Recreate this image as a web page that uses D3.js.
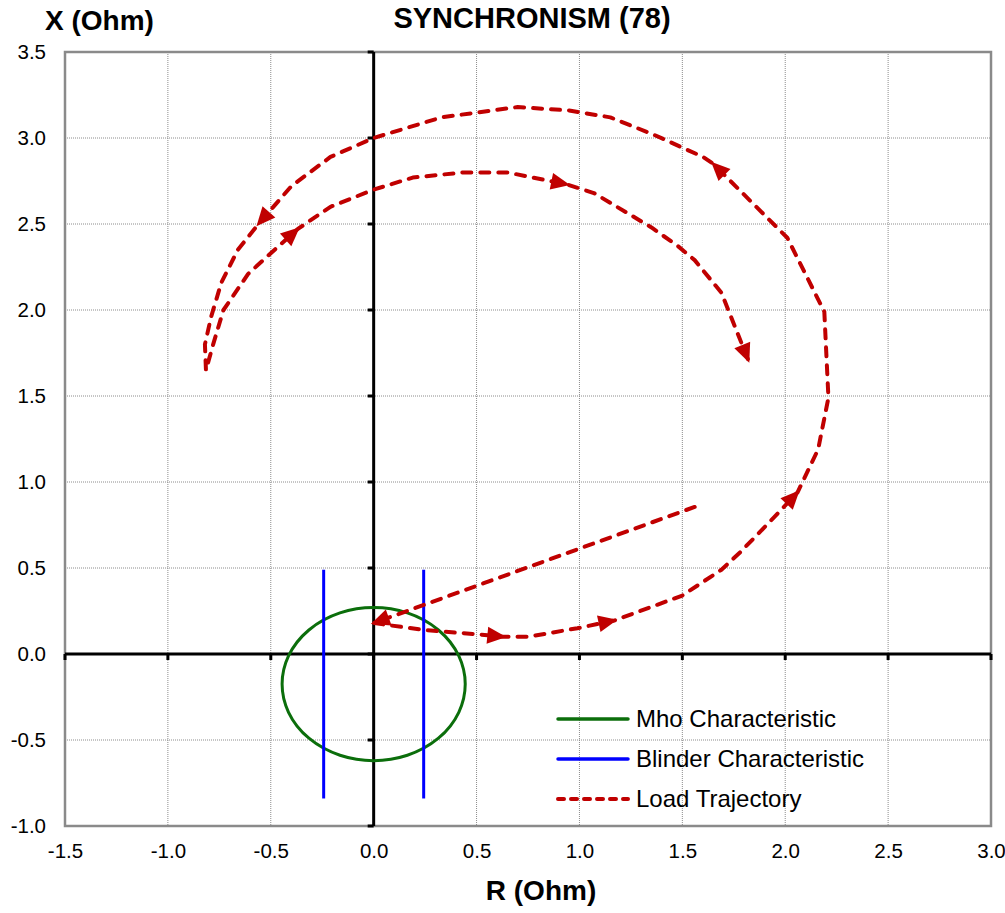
<!DOCTYPE html>
<meta charset="utf-8">
<script src="https://d3js.org/d3.v7.min.js"></script>
<style>
  body { margin: 0; background: #fff; }
  text { font-family: "Liberation Sans", Arial, sans-serif; fill: #000; }
</style>
<div id="my_dataviz"></div>
<script>

// tick values
var rTicks = [-1.5, -1.0, -0.5, 0.0, 0.5, 1.0, 1.5, 2.0, 2.5, 3.0];
var xTicks = [-1.0, -0.5, 0.0, 0.5, 1.0, 1.5, 2.0, 2.5, 3.0, 3.5];

// load trajectory (R, X)
var trajR = [1.56, 0.00, 0.24, 0.50, 0.63, 0.75, 0.99, 1.17, 1.50, 1.69, 1.78, 1.95, 2.06, 2.16, 2.21, 2.19, 2.01,
             1.65, 1.60, 1.36, 1.15, 0.95, 0.70, 0.33, 0.00, -0.21, -0.40, -0.56, -0.66, -0.74, -0.79, -0.82, -0.815,
             -0.78, -0.73, -0.61, -0.50, -0.37, -0.21, 0.00, 0.19, 0.44, 0.65, 0.94, 1.07, 1.35, 1.48, 1.56, 1.69, 1.82];
var trajX = [0.855, 0.18, 0.14, 0.115, 0.10, 0.10, 0.15, 0.195, 0.34, 0.49, 0.59, 0.80, 0.94, 1.19, 1.49, 1.99, 2.42,
             2.85, 2.89, 3.02, 3.12, 3.16, 3.18, 3.12, 3.00, 2.89, 2.72, 2.50, 2.35, 2.16, 1.96, 1.80, 1.65,
             1.80, 2.00, 2.21, 2.33, 2.47, 2.60, 2.70, 2.77, 2.80, 2.80, 2.73, 2.68, 2.48, 2.37, 2.29, 2.10, 1.71];
// points where an arrow head sits
var arrowIdx = [1, 4, 7, 12, 17, 27, 37, 43, 49];

// mho circle
var mhoCenterR = 0.0, mhoCenterX = -0.175, mhoRadius = 0.445;

// blinders
var blinderR = [-0.243, 0.243];
var blinderTop = 0.49, blinderBottom = -0.84;

var legendNames = ["Mho Characteristic", "Blinder Characteristic", "Load Trajectory"];

var red = "#C00000", green = "#0B6E0B", blue = "#0000FF";

var margin = {top: 52, left: 65},
    width = 926,
    height = 774;

var svg = d3.select("#my_dataviz")
  .append("svg")
    .attr("width", 1005)
    .attr("height", 913);

var g = svg.append("g")
    .attr("transform", "translate(" + margin.left + "," + margin.top + ")");

var x = d3.scaleLinear().domain([-1.5, 3.0]).range([0, width]);
var y = d3.scaleLinear().domain([-1.0, 3.5]).range([height, 0]);

// grid
g.append("g").selectAll("line").data(rTicks).enter().append("line")
    .attr("x1", d => x(d)).attr("x2", d => x(d))
    .attr("y1", 0).attr("y2", height)
    .attr("stroke", "#8c8c8c").attr("stroke-width", 1).attr("stroke-dasharray", "1,1");
g.append("g").selectAll("line").data(xTicks).enter().append("line")
    .attr("x1", 0).attr("x2", width)
    .attr("y1", d => y(d)).attr("y2", d => y(d))
    .attr("stroke", "#8c8c8c").attr("stroke-width", 1).attr("stroke-dasharray", "1,1");

// plot border
g.append("rect")
    .attr("width", width).attr("height", height)
    .attr("fill", "none").attr("stroke", "#8a8a8a").attr("stroke-width", 2.5);

// tick labels
var fmt = function(d) { return d.toFixed(1); };
var xAxis = g.append("g")
    .attr("transform", "translate(0," + height + ")")
    .call(d3.axisBottom(x).tickValues(rTicks).tickFormat(fmt).tickSize(0).tickPadding(17));
var yAxis = g.append("g")
    .call(d3.axisLeft(y).tickValues(xTicks).tickFormat(fmt).tickSize(0).tickPadding(19));
[xAxis, yAxis].forEach(function(a) {
  a.select(".domain").remove();
  a.selectAll("text").style("font-size", "20.5px").style("font-family", "'Liberation Sans', Arial, sans-serif");
});

// zero axes with marks
g.append("line")
    .attr("x1", x(0)).attr("x2", x(0)).attr("y1", 0).attr("y2", height)
    .attr("stroke", "#000").attr("stroke-width", 3);
g.append("line")
    .attr("x1", 0).attr("x2", width).attr("y1", y(0)).attr("y2", y(0))
    .attr("stroke", "#000").attr("stroke-width", 3);
g.append("g").selectAll("line").data(xTicks).enter().append("line")
    .attr("x1", x(0) - 6).attr("x2", x(0))
    .attr("y1", d => y(d)).attr("y2", d => y(d))
    .attr("stroke", "#000").attr("stroke-width", 3);
g.append("g").selectAll("line").data(rTicks).enter().append("line")
    .attr("x1", d => x(d)).attr("x2", d => x(d))
    .attr("y1", y(0)).attr("y2", y(0) + 6)
    .attr("stroke", "#000").attr("stroke-width", 3);

// mho circle
g.append("ellipse")
    .attr("cx", x(mhoCenterR)).attr("cy", y(mhoCenterX))
    .attr("rx", x(mhoRadius) - x(0)).attr("ry", y(0) - y(mhoRadius))
    .attr("fill", "none").attr("stroke", green).attr("stroke-width", 3);

// blinders
g.append("g").selectAll("line").data(blinderR).enter().append("line")
    .attr("x1", d => x(d)).attr("x2", d => x(d))
    .attr("y1", y(blinderTop)).attr("y2", y(blinderBottom))
    .attr("stroke", blue).attr("stroke-width", 3);

// load trajectory
var traj = trajR.map(function(r, i) { return {r: r, x: trajX[i]}; });
g.append("path")
    .datum(traj)
    .attr("fill", "none")
    .attr("stroke", red)
    .attr("stroke-width", 4)
    .attr("stroke-linecap", "round")
    .attr("stroke-linejoin", "round")
    .attr("stroke-dasharray", "9,9")
    .attr("d", d3.line().x(d => x(d.r)).y(d => y(d.x)));

g.append("g").selectAll("path").data(arrowIdx).enter().append("path")
    .attr("d", "M3,0 L-16,-8.5 L-16,8.5 Z")
    .attr("fill", red)
    .attr("transform", function(i) {
      var p = traj[i], q = traj[i - 1];
      var a = Math.atan2(y(p.x) - y(q.x), x(p.r) - x(q.r)) * 180 / Math.PI;
      return "translate(" + x(p.r) + "," + y(p.x) + ") rotate(" + a + ")";
    });

// legend
var legend = svg.append("g").attr("transform", "translate(558,719)");
var items = legend.selectAll("g").data(legendNames).enter().append("g")
    .attr("transform", (d, i) => "translate(0," + i * 40 + ")");
items.append("line")
    .attr("x1", 0).attr("x2", 70).attr("y1", 0).attr("y2", 0)
    .attr("stroke", (d, i) => [green, blue, red][i])
    .attr("stroke-width", (d, i) => i == 2 ? 4 : 3.5)
    .attr("stroke-linecap", "round")
    .attr("stroke-dasharray", (d, i) => i == 2 ? "6,7" : null);
items.append("text")
    .attr("x", 78).attr("y", 8)
    .style("font-size", "24px")
    .text(d => d);

// titles
svg.append("text")
    .attr("x", 532).attr("y", 28)
    .attr("text-anchor", "middle")
    .style("font-size", "29px").style("font-weight", "bold")
    .text("SYNCHRONISM (78)");
svg.append("text")
    .attr("x", 45).attr("y", 30)
    .style("font-size", "28px").style("font-weight", "bold")
    .text("X (Ohm)");
svg.append("text")
    .attr("x", 541).attr("y", 900)
    .attr("text-anchor", "middle")
    .style("font-size", "28px").style("font-weight", "bold")
    .text("R (Ohm)");

</script>
